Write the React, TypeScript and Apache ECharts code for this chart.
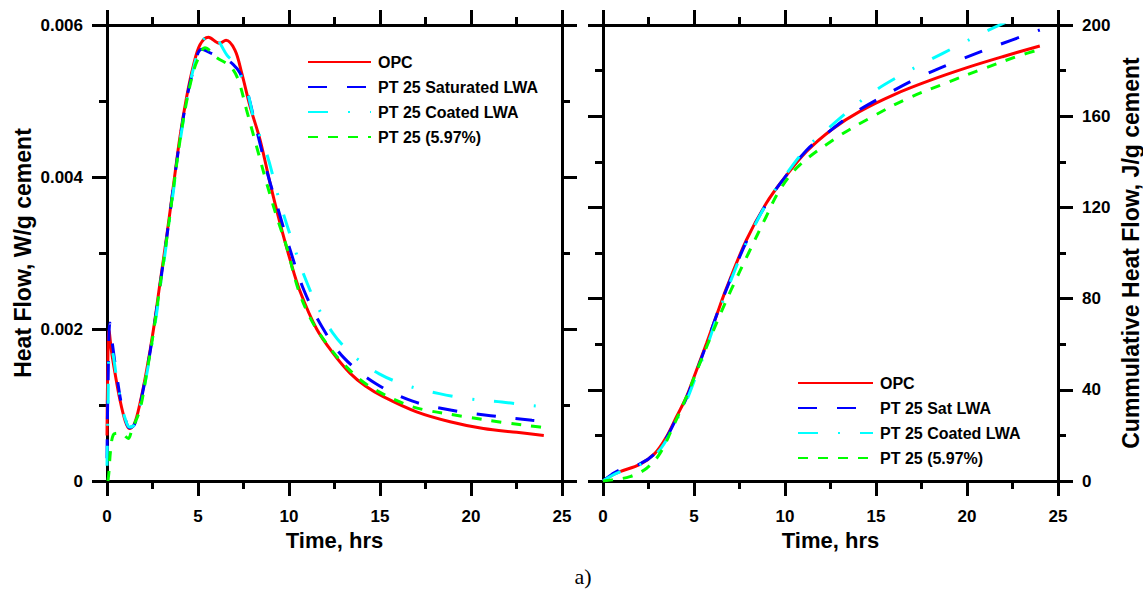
import React, { useEffect, useRef } from 'react';
import * as echarts from 'echarts';

// ---------- Data ----------
// Left panel: heat flow, W/g cement vs time, hrs
const opcFlowTime = [0, 0.03, 0.11, 0.25, 0.44, 0.71, 0.99, 1.23, 1.5, 1.81, 2.18, 2.55, 2.91, 3.28, 3.64, 4.01, 4.38, 4.74, 5.11, 5.57, 6.17, 6.54, 7.03, 7.4, 7.86, 8.41, 8.96, 9.51, 10.05, 10.6, 11.52, 12.43, 13.35, 14.2, 15.18, 17.01, 18.85, 20.68, 22.51, 24];
const opcFlow = [0.0006, 0.0013, 0.00198, 0.0017, 0.00142, 0.00107, 0.0008, 0.00069, 0.00075, 0.00102, 0.00146, 0.00199, 0.0026, 0.00322, 0.00387, 0.00453, 0.00506, 0.00546, 0.00574, 0.00584, 0.00576, 0.0058, 0.00567, 0.00537, 0.00493, 0.00449, 0.00392, 0.00339, 0.00292, 0.0025, 0.002, 0.00168, 0.00142, 0.00125, 0.00111, 0.00091, 0.00078, 0.00069, 0.00064, 0.0006];

const satFlowTime = [0, 0.05, 0.16, 0.3, 0.5, 0.8, 1.0, 1.23, 1.5, 1.81, 2.18, 2.55, 2.91, 3.28, 3.64, 4.01, 4.38, 4.74, 5.2, 5.8, 6.39, 6.94, 7.3, 7.67, 8.22, 8.86, 9.41, 10.09, 10.82, 11.81, 13.02, 14.78, 16.79, 18.94, 21.08, 23.35, 24];
const satFlow = [0.0003, 0.0012, 0.00208, 0.0018, 0.00145, 0.001, 0.00082, 0.0007, 0.00074, 0.001, 0.00144, 0.00197, 0.00257, 0.0032, 0.00385, 0.0045, 0.00503, 0.0054, 0.00568, 0.00562, 0.00557, 0.00548, 0.00537, 0.00515, 0.00462, 0.00401, 0.00357, 0.00302, 0.00251, 0.00203, 0.00162, 0.00128, 0.00105, 0.00093, 0.00086, 0.0008, 0.00079];

const coatFlowTime = [0, 0.05, 0.15, 0.3, 0.5, 0.8, 1.0, 1.23, 1.5, 1.81, 2.18, 2.55, 2.91, 3.28, 3.64, 4.01, 4.38, 4.74, 5.11, 5.4, 5.66, 6.0, 6.21, 6.6, 7.0, 7.67, 8.13, 8.77, 9.51, 10.24, 10.82, 11.52, 12.4, 13.53, 14.96, 16.57, 18.26, 19.95, 21.69, 23.42, 24];
const coatFlow = [0.0002, 0.0009, 0.00175, 0.0017, 0.0014, 0.001, 0.00082, 0.00071, 0.00074, 0.00098, 0.0014, 0.00192, 0.00252, 0.00315, 0.0038, 0.00446, 0.005, 0.00542, 0.00572, 0.00584, 0.00589, 0.00583, 0.00576, 0.0056, 0.0055, 0.00515, 0.00471, 0.00431, 0.00366, 0.00311, 0.00271, 0.00232, 0.00195, 0.00165, 0.00141, 0.00125, 0.00115, 0.00108, 0.00104, 0.00099, 0.00098];

const ptFlowTime = [0.05, 0.1, 0.2, 0.35, 0.62, 0.9, 1.17, 1.36, 1.81, 2.18, 2.55, 2.91, 3.28, 3.64, 4.01, 4.38, 4.74, 5.0, 5.38, 6.03, 6.76, 7.21, 7.67, 8.22, 8.77, 9.32, 9.87, 10.51, 11.2, 12.0, 13.0, 14.27, 16.28, 17.38, 19.58, 21.77, 23.79, 24];
const ptFlow = [0.0, 0.0001, 0.00041, 0.00061, 0.00063, 0.00061, 0.00056, 0.00067, 0.00094, 0.00142, 0.00195, 0.00256, 0.00318, 0.00383, 0.00448, 0.005, 0.00538, 0.00555, 0.0057, 0.00557, 0.00546, 0.00528, 0.00488, 0.0044, 0.00392, 0.00348, 0.00308, 0.00252, 0.00213, 0.00183, 0.00154, 0.00127, 0.00102, 0.00094, 0.00085, 0.00077, 0.00071, 0.0007];

// Right panel: cumulative heat flow, J/g cement vs time, hrs
const opcCumTime = [0, 0.5, 0.93, 2.03, 2.85, 3.49, 4.04, 4.59, 5.04, 5.69, 6.23, 6.78, 7.88, 8.97, 9.88, 11.17, 12.63, 14.09, 16, 18, 20, 22, 24];
const opcCum = [0, 2.6, 4.1, 7.3, 12.1, 19.4, 28.2, 37.0, 46.5, 60.4, 72.5, 84.5, 105.7, 121.8, 132, 144.4, 154.5, 162, 169.5, 175.8, 181.3, 186.2, 190.8];

const satCumTime = [0, 0.5, 0.9, 2.03, 2.85, 3.49, 4.04, 4.59, 5.04, 5.69, 6.23, 6.78, 7.88, 8.97, 9.88, 11.17, 12.0, 13.5, 15.0, 17.38, 19.42, 21.47, 24];
const satCum = [0, 3.0, 4.8, 7.5, 12.0, 19.0, 27.6, 36.5, 46.0, 60.0, 72.5, 84.0, 105.0, 121.5, 132.0, 145.0, 150.5, 159.8, 167.0, 177.1, 184.1, 190.5, 197.8];

const coatCumTime = [0, 0.5, 1, 2, 2.85, 3.49, 4.04, 4.59, 5.04, 5.69, 6.23, 6.78, 7.88, 8.97, 9.88, 11.17, 12.0, 13.37, 14.78, 16.28, 17.84, 19.39, 20.94, 22.5, 24];
const coatCum = [0, 2.4, 4.2, 7.0, 11.3, 18.0, 26.5, 35.3, 44.5, 58.5, 71.0, 83.0, 104.5, 121.5, 132.5, 146.0, 152.0, 161.5, 170.3, 177.6, 184.2, 190.5, 196.8, 202.5, 207.5];

const ptCumTime = [0, 0.5, 1.48, 2.4, 3.13, 3.85, 4.59, 5.32, 6.41, 7.05, 8.0, 8.97, 9.7, 10.8, 12.82, 14.73, 16.74, 18.8, 20.82, 22.82, 24];
const ptCum = [0, 0.5, 1.9, 5.6, 12.1, 23.8, 37.0, 51.6, 72.5, 84.0, 100.0, 116.0, 127.5, 138.5, 150.5, 159.5, 167.8, 174.4, 180.6, 186.4, 189.3];

const leftNames = ['OPC', 'PT 25 Saturated LWA', 'PT 25 Coated LWA', 'PT 25 (5.97%)'];
const rightNames = ['OPC', 'PT 25 Sat LWA', 'PT 25 Coated LWA', 'PT 25 (5.97%)'];
const timeTicks = { min: 0, max: 25, interval: 5 };
const flowTicks = { min: 0, max: 0.006, interval: 0.002 };
const cumTicks = { min: 0, max: 200, interval: 40 };

// ---------- Styles ----------
const FONT = "Arial, 'Liberation Sans', Helvetica, sans-serif";
const STY = [
  { color: '#ff0000', type: 'solid' as any },
  { color: '#0000ff', type: [19, 20] as any },
  { color: '#00ffff', type: [20, 20, 2, 20] as any },
  { color: '#00ff00', type: [10, 10] as any },
];

const zip = (t: number[], v: number[]) => t.map((x, i) => [x, v[i]]);

const lineCol = '#000';
const axisLine = { show: true, onZero: false, lineStyle: { color: lineCol, width: 3 } };
const axisTick = { show: true, inside: false, length: 15, lineStyle: { color: lineCol, width: 3 } };
const minorTick = { show: true, splitNumber: 2, length: 8, lineStyle: { color: lineCol, width: 3 } };
const labelStyle = { show: true, fontSize: 17, fontWeight: 'bold' as const, color: '#000', fontFamily: FONT, margin: 24 };
const nameStyleX = { fontSize: 22, fontWeight: 'bold' as const, color: '#000', fontFamily: FONT };
const nameStyleY = { fontSize: 23, fontWeight: 'bold' as const, color: '#000', fontFamily: FONT };

function mkAxis(extra: any, ticks: any, labels: boolean) {
  return {
    type: 'value',
    ...ticks,
    axisLine,
    axisTick,
    minorTick,
    splitLine: { show: false },
    minorSplitLine: { show: false },
    axisLabel: labels ? labelStyle : { show: false },
    ...extra,
  };
}

function mkSeries(name: string, data: number[][], i: number, xi: number, yi: number) {
  return {
    type: 'line',
    name,
    data,
    xAxisIndex: xi,
    yAxisIndex: yi,
    symbol: 'none',
    smooth: 0.35,
    clip: true,
    lineStyle: { color: STY[i].color, width: 3, type: STY[i].type, cap: 'butt' },
    itemStyle: { color: STY[i].color },
    emphasis: { disabled: true },
  };
}

export default function App() {
  const ref = useRef<HTMLDivElement>(null);
  useEffect(() => {
    if (!ref.current) return;
    const chart = echarts.init(ref.current, undefined, { renderer: 'svg' });
    const legendText = { fontSize: 16, fontWeight: 'bold' as const, color: '#000', fontFamily: FONT, lineHeight: 16, padding: [0, 0, 0, 2] };
    const xLabel = { ...labelStyle, margin: 27 };
    const option: any = {
      animation: false,
      backgroundColor: '#fff',
      grid: [
        { left: 107, top: 25, width: 455, height: 456 },
        { left: 603, top: 25, width: 456, height: 456 },
      ],
      xAxis: [
        mkAxis({ gridIndex: 0, position: 'bottom', name: 'Time, hrs', nameLocation: 'middle', nameGap: 45, nameTextStyle: nameStyleX, axisLabel: xLabel }, timeTicks, true),
        mkAxis({ gridIndex: 0, position: 'top' }, timeTicks, false),
        mkAxis({ gridIndex: 1, position: 'bottom', name: 'Time, hrs', nameLocation: 'middle', nameGap: 45, nameTextStyle: nameStyleX, axisLabel: xLabel }, timeTicks, true),
        mkAxis({ gridIndex: 1, position: 'top' }, timeTicks, false),
      ],
      yAxis: [
        mkAxis({ gridIndex: 0, position: 'left', name: 'Heat Flow, W/g cement', nameLocation: 'middle', nameRotate: 90, nameGap: 73, nameTextStyle: nameStyleY,
          axisLabel: { ...labelStyle, formatter: (v: number) => (v === 0 ? '0' : v.toFixed(3)) } }, flowTicks, true),
        mkAxis({ gridIndex: 0, position: 'right' }, flowTicks, false),
        mkAxis({ gridIndex: 1, position: 'left' }, cumTicks, false),
        mkAxis({ gridIndex: 1, position: 'right', name: 'Cummulative Heat Flow, J/g cement', nameLocation: 'middle', nameRotate: 90, nameGap: 61, nameTextStyle: nameStyleY }, cumTicks, true),
      ],
      legend: [
        { data: leftNames, orient: 'vertical', left: 307, top: 54, padding: 0, itemWidth: 63, itemHeight: 14, itemGap: 9, textStyle: legendText, selectedMode: false, itemStyle: { opacity: 0 } },
        { data: rightNames, orient: 'vertical', left: 797, top: 375, padding: 0, itemWidth: 75, itemHeight: 14, itemGap: 9, textStyle: legendText, selectedMode: false, itemStyle: { opacity: 0 } },
      ],
      graphic: [
        { type: 'text', x: 583, y: 576, style: { text: 'a)', fontSize: 22, fontFamily: "'Liberation Serif', 'Times New Roman', serif", fill: '#000', align: 'center', verticalAlign: 'middle' } },
      ],
      series: [
        mkSeries(leftNames[0], zip(opcFlowTime, opcFlow), 0, 0, 0),
        mkSeries(leftNames[1], zip(satFlowTime, satFlow), 1, 0, 0),
        mkSeries(leftNames[2], zip(coatFlowTime, coatFlow), 2, 0, 0),
        mkSeries(leftNames[3], zip(ptFlowTime, ptFlow), 3, 0, 0),
        mkSeries(rightNames[0], zip(opcCumTime, opcCum), 0, 2, 3),
        mkSeries(rightNames[1], zip(satCumTime, satCum), 1, 2, 3),
        mkSeries(rightNames[2], zip(coatCumTime, coatCum), 2, 2, 3),
        mkSeries(rightNames[3], zip(ptCumTime, ptCum), 3, 2, 3),
      ],
    };
    chart.setOption(option);
    return () => chart.dispose();
  }, []);
  return <div ref={ref} style={{ position: 'absolute', left: 0, top: 0, width: 1143, height: 589, background: '#fff' }} />;
}
